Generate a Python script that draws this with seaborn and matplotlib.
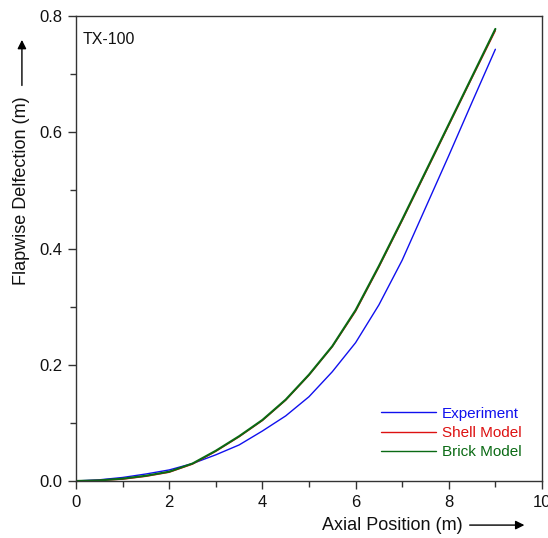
import numpy as np
import pandas as pd
import matplotlib
matplotlib.use("Agg")
import matplotlib.pyplot as plt
from matplotlib.ticker import MultipleLocator
import seaborn as sns

# Flapwise deflection along the TX-100 blade
axial_position = [0.0, 0.5, 1.0, 1.5, 2.0, 2.5, 3.0, 3.5, 4.0, 4.5,
                  5.0, 5.5, 6.0, 6.5, 7.0, 7.5, 8.0, 8.5, 9.0]
experiment = [0.000, 0.002, 0.006, 0.012, 0.019, 0.030, 0.045, 0.062, 0.086, 0.112,
              0.145, 0.188, 0.238, 0.303, 0.380, 0.470, 0.560, 0.652, 0.743]
shell_model = [0.000, 0.001, 0.003, 0.008, 0.015, 0.029, 0.051, 0.076, 0.104, 0.139,
               0.182, 0.231, 0.292, 0.368, 0.448, 0.530, 0.612, 0.694, 0.775]
brick_model = [0.000, 0.001, 0.004, 0.009, 0.016, 0.030, 0.052, 0.077, 0.105, 0.140,
               0.183, 0.232, 0.294, 0.370, 0.450, 0.532, 0.614, 0.696, 0.778]

series_names = ["Experiment", "Shell Model", "Brick Model"]
series_colors = ["#1010ee", "#dd1111", "#0a6a14"]

df = pd.DataFrame({
    "x": axial_position * 3,
    "y": experiment + shell_model + brick_model,
    "series": [n for n in series_names for _ in axial_position],
})

sns.set_theme(style="ticks")
plt.rcParams["font.family"] = ["Liberation Sans", "DejaVu Sans"]

fig = plt.figure(figsize=(5.48, 5.38), dpi=100)
ax = fig.add_axes([0.1387, 0.106, 0.8503, 0.864])

for name, color, lw in zip(series_names, series_colors, [1.0, 1.0, 1.5]):
    sns.lineplot(data=df[df["series"] == name], x="x", y="y", color=color,
                 linewidth=lw, ax=ax, label=name, estimator=None, sort=False)

ax.set_xlim(0, 10)
ax.set_ylim(0, 0.8)
ax.xaxis.set_major_locator(MultipleLocator(2))
ax.xaxis.set_minor_locator(MultipleLocator(1))
ax.yaxis.set_major_locator(MultipleLocator(0.2))
ax.yaxis.set_minor_locator(MultipleLocator(0.1))
ax.yaxis.set_major_formatter(matplotlib.ticker.FormatStrFormatter("%.1f"))
ax.tick_params(which="major", direction="out", length=6, width=1, color="#333333",
               labelsize=12, labelcolor="#111111", pad=4, top=False, right=False)
ax.tick_params(which="minor", direction="out", length=4, width=1, color="#333333",
               top=False, right=False)
for sp in ax.spines.values():
    sp.set_visible(True)
    sp.set_color("#333333")
    sp.set_linewidth(1.0)

ax.set_xlabel("")
ax.set_ylabel("")

# axis titles with direction arrows
fig.text(0.716, 0.024, "Axial Position (m)", fontsize=13, ha="center", va="center",
         color="#111111")
ax.annotate("", xy=(0.962, 0.024), xytext=(0.852, 0.024), xycoords="figure fraction",
            arrowprops=dict(arrowstyle="-|>", color="black", lw=1.0, mutation_scale=13))
fig.text(0.040, 0.645, "Flapwise Delfection (m)", fontsize=13, ha="center", va="center",
         rotation=90, color="#111111")
ax.annotate("", xy=(0.040, 0.931), xytext=(0.040, 0.836), xycoords="figure fraction",
            arrowprops=dict(arrowstyle="-|>", color="black", lw=1.0, mutation_scale=13))

ax.text(0.015, 0.965, "TX-100", transform=ax.transAxes, fontsize=11.5,
        ha="left", va="top", color="#111111")

leg = ax.legend(loc="lower right", bbox_to_anchor=(0.985, 0.017), frameon=False,
                handlelength=3.6, handletextpad=0.35, labelspacing=0.35, fontsize=11)
for txt, color in zip(leg.get_texts(), series_colors):
    txt.set_color(color)
for line in leg.get_lines():
    line.set_linewidth(1.0)

fig.savefig("out.png", dpi=100)
